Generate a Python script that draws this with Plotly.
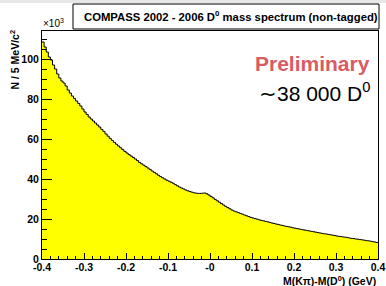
import plotly.graph_objects as go

# ---- data (counts per 5 MeV bin, in units of 10^3) ----
bin_low = -0.4
bin_width = 0.005
counts = [
    108.5, 106.0, 103.5, 101.0, 99.5, 97.0, 95.0, 92.5, 90.5, 89.0,
    88.0, 86.5, 84.5, 83.0, 81.5, 80.3, 79.0, 77.8, 76.5, 75.0,
    73.5, 72.3, 71.0, 70.0, 69.0, 68.0, 67.0, 66.0, 64.8, 63.8,
    62.5, 61.4, 60.3, 59.3, 58.3, 57.4, 56.5, 55.6, 54.7, 53.8,
    53.0, 52.2, 51.5, 50.8, 50.0, 49.2, 48.3, 47.6, 46.9, 46.2,
    45.5, 44.8, 44.0, 43.3, 42.6, 41.9, 41.2, 40.6, 40.0, 39.4,
    38.9, 38.4, 37.9, 37.2, 36.6, 36.0, 35.5, 35.0, 34.5, 34.1,
    33.7, 33.4, 33.1, 32.9, 32.8, 32.8, 32.9, 33.0, 32.6, 32.0,
    31.3, 30.6, 29.8, 29.1, 28.4, 27.7, 27.0, 26.3, 25.7, 25.1,
    24.5, 24.0, 23.6, 23.2, 22.8, 22.4, 22.0, 21.6, 21.2, 20.8,
    20.5, 20.2, 19.9, 19.6, 19.3, 19.1, 18.8, 18.6, 18.3, 18.0,
    17.8, 17.5, 17.3, 17.0, 16.8, 16.5, 16.3, 16.1, 15.9, 15.6,
    15.4, 15.2, 15.0, 14.8, 14.6, 14.4, 14.2, 14.0, 13.8, 13.6,
    13.4, 13.2, 13.0, 12.8, 12.6, 12.5, 12.3, 12.1, 11.9, 11.7,
    11.5, 11.3, 11.2, 11.0, 10.9, 10.7, 10.5, 10.3, 10.2, 10.0,
    9.9, 9.7, 9.6, 9.4, 9.2, 9.1, 8.9, 8.7, 8.5, 8.3,
]
x_tick_vals = [-0.4, -0.3, -0.2, -0.1, 0.0, 0.1, 0.2, 0.3, 0.4]
x_tick_labels = ["-0.4", "-0.3", "-0.2", "-0.1", "-0", "0.1", "0.2", "0.3", "0.4"]
y_tick_vals = [0, 20, 40, 60, 80, 100]
y_tick_labels = ["0", "20", "40", "60", "80", "100"]

title_text = "COMPASS 2002 - 2006 D<sup>0</sup> mass spectrum (non-tagged)"
x_title = "M(K\u03c0)-M(D<sup>0</sup>) (GeV)"
y_title = "N / 5 MeV/c<sup>2</sup>"

edges = [bin_low + i * bin_width for i in range(len(counts) + 1)]
ys = counts + [counts[-1]]

FONT = "Liberation Sans, Arial, Helvetica, sans-serif"

fig = go.Figure(go.Scatter(
    x=edges, y=ys, mode="lines",
    line=dict(shape="hv", color="black", width=1),
    fill="tozeroy", fillcolor="#ffff00",
    hoverinfo="skip", showlegend=False,
))

W, H = 386, 286
L, R, T, B = 42, 8, 31, 27
fig.update_layout(
    width=W, height=H,
    margin=dict(l=L, r=R, t=T, b=B, pad=0, autoexpand=False),
    paper_bgcolor="white", plot_bgcolor="white",
    font=dict(family=FONT, color="black"),
    showlegend=False,
)
fig.update_xaxes(
    range=[-0.4, 0.4], tickvals=x_tick_vals, ticktext=x_tick_labels,
    ticks="inside", ticklen=6, tickcolor="black", tickwidth=1,
    minor=dict(dtick=0.02, tick0=-0.4, ticks="inside", ticklen=3, tickcolor="black"),
    showline=True, mirror=True, linecolor="black", linewidth=1,
    showgrid=False, zeroline=False, ticklabeloverflow="allow",
    ticklabelstandoff=-2, automargin=False,
    tickfont=dict(family=FONT, size=10.5, color="black", weight="bold"),
)
fig.update_yaxes(
    range=[0, 114], tickvals=y_tick_vals, ticktext=y_tick_labels,
    ticks="inside", ticklen=10, tickcolor="black", tickwidth=1,
    minor=dict(dtick=5, tick0=0, ticks="inside", ticklen=5, tickcolor="black"),
    showline=True, mirror=True, linecolor="black", linewidth=1,
    showgrid=False, zeroline=False, ticklabeloverflow="allow", automargin=False,
    tickfont=dict(family=FONT, size=10.5, color="black", weight="bold"),
)

pw = W - L - R
ph = H - T - B
def px(xp):  # pixel -> paper x
    return (xp - L) / pw
def py(yp):  # pixel -> paper y
    return (H - B - yp) / ph

# faint grey band along the top edge
fig.add_shape(type="rect", xref="paper", yref="paper",
              x0=px(0), x1=px(W), y0=py(3), y1=py(0),
              line=dict(width=0), fillcolor="#e6e6e6", layer="below")
# title box
fig.add_shape(type="rect", xref="paper", yref="paper",
              x0=px(73), x1=px(379), y0=py(29), y1=py(4),
              line=dict(color="black", width=1), fillcolor="white")
fig.add_annotation(xref="paper", yref="paper", x=px(231), y=py(16.5),
                   text=title_text, showarrow=False, xanchor="center", yanchor="middle",
                   font=dict(family=FONT, size=11.3, color="black", weight="bold"))
# x10^3
fig.add_annotation(xref="paper", yref="paper", x=px(41), y=py(31),
                   text="\u00d710<sup>3</sup>", showarrow=False, xanchor="left", yanchor="bottom",
                   font=dict(family=FONT, size=10, color="black"))
# axis titles
fig.add_annotation(xref="paper", yref="paper", x=px(378), y=py(272),
                   text=x_title, showarrow=False, xanchor="right", yanchor="top",
                   font=dict(family=FONT, size=10.5, color="black", weight="bold"))
fig.add_annotation(xref="paper", yref="paper", x=px(5), y=py(28),
                   text=y_title, showarrow=False, xanchor="left", yanchor="top", textangle=-90,
                   font=dict(family=FONT, size=10.5, color="black", weight="bold"))
# text labels
fig.add_annotation(xref="paper", yref="paper", x=px(372), y=py(63),
                   text="Preliminary", showarrow=False, xanchor="right", yanchor="middle",
                   font=dict(family=FONT, size=21, color="#d95b63", weight="bold"))
fig.add_annotation(xref="paper", yref="paper", x=px(372), y=py(92),
                   text="\u223c38 000 D<sup>0</sup>", showarrow=False, xanchor="right", yanchor="middle",
                   font=dict(family=FONT, size=21, color="black"))

fig.write_html("out.html", config={"displayModeBar": False},
               post_script="document.body.style.margin='0px';")
